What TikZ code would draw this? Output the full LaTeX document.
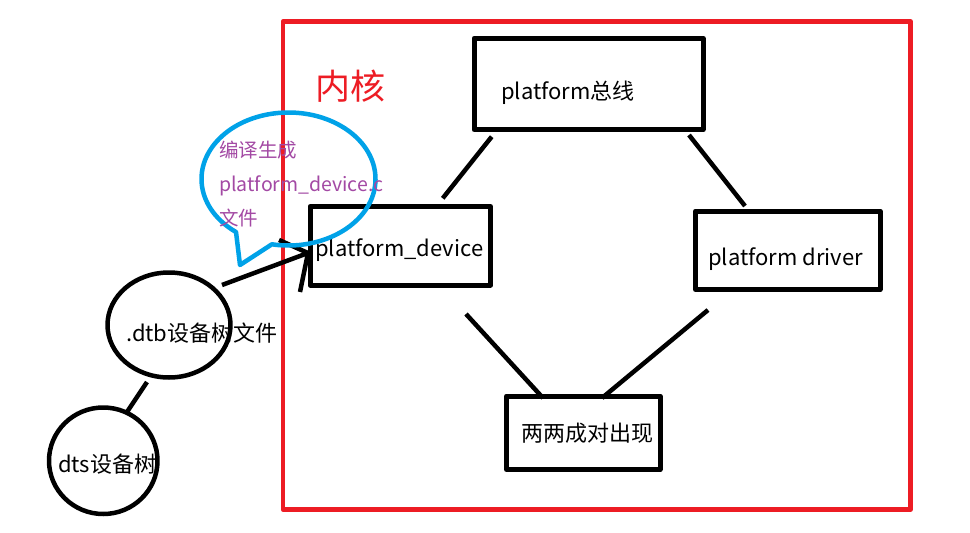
\documentclass[tikz,border=0pt]{standalone}
\usepackage{fontspec}
\setmainfont{Noto Sans CJK SC}
\usetikzlibrary{shapes.geometric}
\definecolor{kred}{HTML}{ED1C24}
\definecolor{kblue}{HTML}{00A2E8}
\definecolor{kpurple}{HTML}{A349A4}
\begin{document}
\begin{tikzpicture}[x=1pt,y=-1pt,line join=round]
\tikzset{
  boxnode/.style={draw=black, line width=5pt, rectangle, inner sep=0pt},
  circnode/.style={draw=black, line width=4.5pt, ellipse, inner sep=0pt},
  conn/.style={draw=black, line width=4.5pt},
  boxtext/.style={font=\fontsize{22}{26}\selectfont, inner sep=0pt, anchor=base west},
  bubtext/.style={font=\fontsize{19.5}{34}\selectfont, text=kpurple, inner sep=0pt, anchor=base west},
}
\useasboundingbox (0,0) rectangle (970,533);
\fill[white] (0,0) rectangle (970,533);
% kernel frame
\node[draw=kred, line width=4.5pt, inner sep=0pt, minimum width=627.5pt, minimum height=488pt] (kernel) at (596.75,265.5) {};
\node[font=\fontsize{35}{40}\selectfont, text=kred, inner sep=0pt, anchor=base west] (kname) at (315,99) {内核};
% boxes
\node[boxnode, minimum width=229pt, minimum height=91.5pt] (bus) at (588.5,84) {};
\node[boxtext] (bust) at (501,99) {platform总线};
\node[boxnode, minimum width=180.5pt, minimum height=78.5pt] (dev) at (400.25,245.75) {};
\node[boxtext] (devt) at (315,256) {platform\_device};
\node[boxnode, minimum width=184.5pt, minimum height=78.5pt] (drv) at (787.75,250.25) {};
\node[boxtext] (drvt) at (708,265) {platform driver};
\node[boxnode, minimum width=153.5pt, minimum height=73.5pt] (pair) at (583.25,432.75) {};
\node[boxtext] (pairt) at (521,441) {两两成对出现};
% connectors inside kernel
\coordinate (l1a) at (491.7,136.7); \coordinate (l1b) at (442.7,198.3);
\coordinate (l2a) at (689,135);    \coordinate (l2b) at (745,206);
\coordinate (l3a) at (466,314);    \coordinate (l3b) at (543,398);
\coordinate (l4a) at (708,310);    \coordinate (l4b) at (602,398);
\draw[conn] (l1a) -- (l1b);
\draw[conn] (l2a) -- (l2b);
\draw[conn] (l3a) -- (l3b);
\draw[conn] (l4a) -- (l4b);
% device tree circles
\node[circnode, minimum width=123pt, minimum height=105pt] (dtb) at (169,325) {};
\node[boxtext] (dtbt) at (126,341) {.dtb设备树文件};
\node[circnode, minimum width=108.5pt, minimum height=106.5pt] (dts) at (103.25,460.75) {};
\node[boxtext] (dtst) at (58,472) {dts设备树};
\coordinate (c1) at (147,382); \coordinate (c2) at (127,412);
\draw[conn] (c1) -- (c2);
% arrow from dtb to platform_device
\coordinate (a0) at (222,285);
\coordinate (tip) at (308,253);
\coordinate (arm1) at (279,240);
\coordinate (arm2) at (300,292);
\draw[conn] (a0) -- (tip);
\draw[conn] (arm1) -- (tip) -- (arm2);
% speech bubble
\coordinate (bc) at (288.5,179);
\coordinate (tail) at (240,265);
\draw[kblue, line width=4.5pt] (bc) ++(127.1:87 and 66.5) arc[start angle=127.1, end angle=461, x radius=87, y radius=66.5] -- (tail) -- cycle;
\node[bubtext] (b1) at (219,157) {编译生成};
\node[bubtext] (b2) at (219,191) {platform\_device.c};
\node[bubtext] (b3) at (219,225) {文件};
\end{tikzpicture}
\end{document}
